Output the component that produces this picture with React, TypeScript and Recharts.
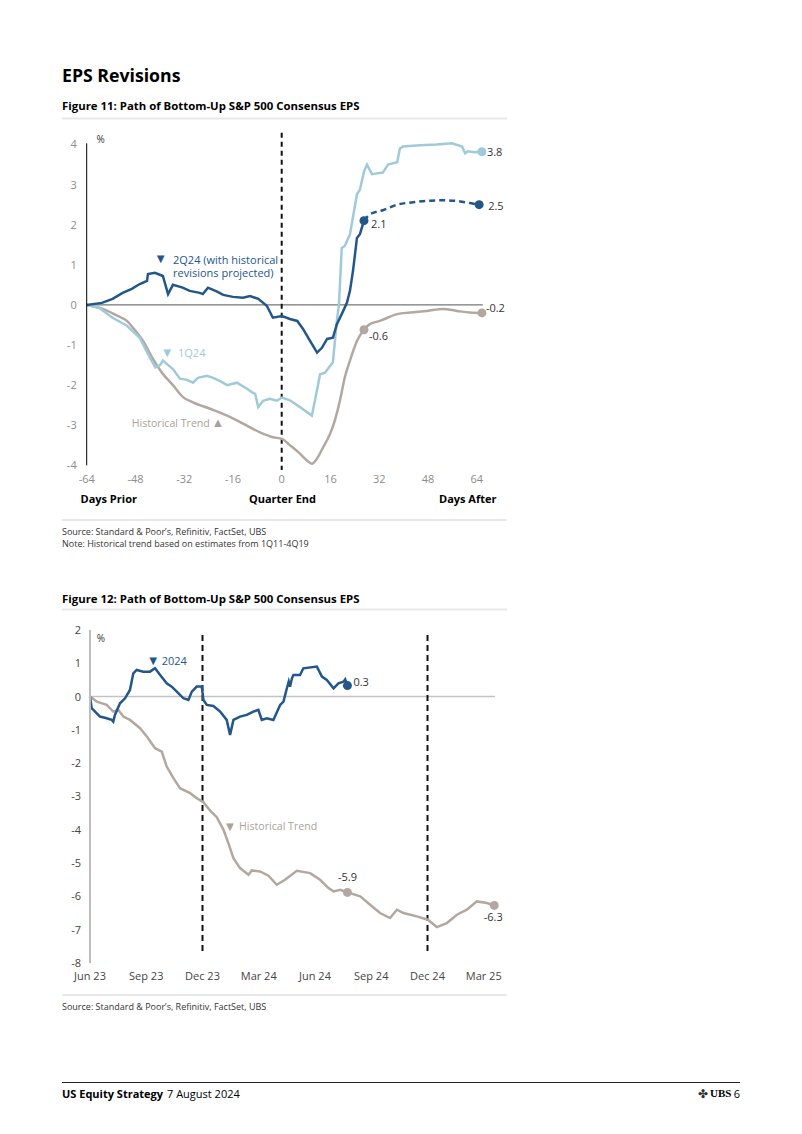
import React from 'react';
import { LineChart, Line, XAxis, YAxis, ReferenceLine, ReferenceDot } from 'recharts';

const FONT = '"Open Sans", "Noto Sans", sans-serif';
const DARK_BLUE = '#23578a';
const LIGHT_BLUE = '#a0cad9';
const TAUPE = '#b2a8a1';

// ---- Figure 11: days around quarter end vs % revision ----
const fig11XTicks = [-64, -48, -32, -16, 0, 16, 32, 48, 64];
const fig11YTicks = [-4, -3, -2, -1, 0, 1, 2, 3, 4];

// [day, %]
const q224Actual = [
  [-64, 0], [-59, 0.05], [-55.5, 0.15], [-52.2, 0.3], [-49.2, 0.4], [-46.6, 0.52], [-44.2, 0.6],
  [-43.9, 0.77], [-41.6, 0.8], [-39, 0.72], [-37.3, 0.27], [-35.7, 0.5], [-32.5, 0.43], [-30.2, 0.35],
  [-26.9, 0.3], [-25.9, 0.27], [-24.2, 0.43], [-21.2, 0.33], [-19.2, 0.25], [-16, 0.2], [-12.7, 0.18],
  [-10.4, 0.22], [-7.7, 0.15], [-4.9, -0.02], [-2.9, -0.32], [0.1, -0.28], [2.7, -0.35], [5.1, -0.4],
  [7, -0.6], [9.3, -0.9], [11.6, -1.19], [13.2, -1.07], [14.9, -0.85], [16.8, -0.82], [18.1, -0.48],
  [19.7, -0.23], [21.4, 0.05], [22.4, 0.35], [23.4, 0.85], [24.7, 1.67], [25.7, 1.77], [27, 2.1],
];
const q224Projected = [
  [27, 2.1], [29, 2.26], [33.2, 2.36], [37.9, 2.5], [43.1, 2.56], [48.7, 2.6], [52.9, 2.61],
  [57.5, 2.59], [61.8, 2.54], [64.8, 2.5],
];
const q124 = [
  [-64, 0], [-60, -0.07], [-55.5, -0.32], [-50.8, -0.52], [-46.6, -0.82], [-43.9, -1.22], [-41.5, -1.56],
  [-39.9, -1.5], [-39, -1.39], [-35.7, -1.6], [-33.4, -1.84], [-31.1, -1.87], [-29.1, -1.94], [-27.5, -1.82],
  [-24.5, -1.77], [-22.5, -1.82], [-20.2, -1.9], [-17.9, -2.0], [-14.7, -1.94], [-11.4, -2.09], [-9.7, -2.18],
  [-8.7, -2.22], [-7.7, -2.55], [-6.1, -2.39], [-3.9, -2.34], [-1.6, -2.39], [0.1, -2.31], [2.7, -2.38],
  [6, -2.55], [9.9, -2.76], [10.9, -2.39], [12.6, -1.73], [14.2, -1.69], [16.8, -1.43], [18.1, -0.4],
  [18.8, 0.02], [19.7, 1.42], [20.7, 1.47], [22.4, 1.76], [24.7, 2.76], [25.7, 2.88], [27, 3.33],
  [28, 3.5], [29.6, 3.26], [31.3, 3.28], [33.2, 3.3], [34.9, 3.5], [37.9, 3.56], [38.8, 3.9],
  [39.8, 3.95], [45.4, 3.98], [50.9, 4.0], [55.9, 4.03], [59.2, 3.95], [60.2, 3.78], [61.1, 3.83],
  [63.4, 3.81], [65.7, 3.82],
];
const histTrend11 = [
  [-64, 0], [-58.7, -0.1], [-54, -0.27], [-50.8, -0.4], [-48.8, -0.57], [-45.5, -0.9], [-42.2, -1.35],
  [-39, -1.72], [-35.7, -2.0], [-32.4, -2.3], [-29.1, -2.43], [-23.5, -2.59], [-17.9, -2.76], [-12.7, -2.96],
  [-7.1, -3.18], [-2.9, -3.3], [0.1, -3.34], [2.7, -3.5], [6, -3.71], [8.3, -3.88], [9.9, -3.96],
  [11.6, -3.83], [13.6, -3.55], [15.9, -3.21], [17.4, -2.89], [19.1, -2.39], [20.7, -1.81], [22.4, -1.39],
  [24.7, -0.9], [27, -0.62], [28.9, -0.48], [32.2, -0.4], [37.9, -0.23], [42.1, -0.19], [47.7, -0.15],
  [52.9, -0.1], [57.5, -0.15], [61.8, -0.19], [65.7, -0.2],
];
const fig11Dash = { day: 0, top: 4.29, bottom: -4.12 };

// ---- Figure 12: months since Jun 23 vs % revision ----
const fig12XLabels = ['Jun 23', 'Sep 23', 'Dec 23', 'Mar 24', 'Jun 24', 'Sep 24', 'Dec 24', 'Mar 25'];
const fig12XTicks = [0, 3, 6, 9, 12, 15, 18, 21];
const fig12YTicks = [-8, -7, -6, -5, -4, -3, -2, -1, 0, 1, 2];

// [month, %]
const y2024 = [
  [0, 0], [0.09, -0.35], [0.27, -0.45], [0.53, -0.6], [0.89, -0.65], [1.16, -0.7], [1.24, -0.75],
  [1.33, -0.55], [1.6, -0.2], [1.87, -0.05], [2.13, 0.2], [2.31, 0.7], [2.49, 0.8], [2.84, 0.75],
  [3.2, 0.75], [3.47, 0.85], [3.74, 0.65], [4.09, 0.4], [4.36, 0.3], [4.63, 0.15], [4.98, -0.05],
  [5.25, -0.1], [5.43, 0.15], [5.69, 0.3], [5.96, 0.3], [6.05, -0.1], [6.23, -0.25], [6.58, -0.28],
  [6.94, -0.45], [7.29, -0.7], [7.47, -1.15], [7.65, -0.7], [8.0, -0.6], [8.36, -0.55], [8.71, -0.45],
  [8.98, -0.4], [9.16, -0.7], [9.43, -0.65], [9.78, -0.7], [10.14, -0.25], [10.32, -0.15], [10.5, 0.25],
  [10.6, 0.45], [10.67, 0.3], [10.77, 0.55], [10.85, 0.65], [11.2, 0.65], [11.38, 0.85], [12.1, 0.9],
  [12.37, 0.6], [12.63, 0.5], [12.99, 0.25], [13.25, 0.4], [13.52, 0.45], [13.61, 0.52], [13.73, 0.33],
];
const histTrend12 = [
  [0, 0], [0.36, -0.15], [0.89, -0.25], [1.07, -0.35], [1.24, -0.45], [1.51, -0.4], [1.78, -0.6],
  [2.13, -0.7], [2.67, -0.95], [3.03, -1.2], [3.47, -1.55], [3.83, -1.65], [4.09, -2.1], [4.45, -2.45],
  [4.8, -2.75], [5.34, -2.9], [5.69, -3.05], [6.05, -3.17], [6.4, -3.42], [6.76, -3.62], [7.12, -4.0],
  [7.38, -4.4], [7.65, -4.85], [8.0, -5.15], [8.45, -5.35], [8.63, -5.22], [9.07, -5.25], [9.52, -5.38],
  [9.96, -5.65], [10.4, -5.5], [11.03, -5.23], [11.74, -5.3], [12.27, -5.5], [12.72, -5.75], [12.99, -5.85],
  [13.34, -5.8], [13.73, -5.88], [14.41, -6.0], [14.94, -6.25], [15.47, -6.5], [16.0, -6.65], [16.37, -6.4],
  [16.72, -6.5], [17.43, -6.6], [18.02, -6.7], [18.5, -6.92], [19.03, -6.8], [19.57, -6.55], [20.1, -6.4],
  [20.63, -6.15], [21.17, -6.2], [21.56, -6.27],
];
const fig12Dashes = [6, 18];
const fig12DashTop = 1.85;
const fig12DashBottom = -7.76;

const toPts = (rows: number[][]) => rows.map(([x, v]) => ({ x, v }));
const last = (rows: number[][]) => rows[rows.length - 1];
const at = (rows: number[][], x: number) => rows.find((r) => r[0] === x) as number[];

// marker + value label
const valueDot = (color: string, value: number, dx: number, dy: number, anchor = 'start') => (p: any) => (
  <g>
    <circle cx={p.cx} cy={p.cy} r={4.5} fill={color} />
    <text
      x={p.cx + dx}
      y={p.cy + dy}
      fill="#333"
      fontSize={11}
      fontFamily={FONT}
      textAnchor={anchor}
      dominantBaseline="central"
    >
      {value.toFixed(1)}
    </text>
  </g>
);

const Txt: React.FC<any> = ({ x, y, children, size = 11, weight = 400, fill = '#000', anchor = 'start' }) => (
  <text
    x={x}
    y={y}
    fontSize={size}
    fontWeight={weight}
    fill={fill}
    textAnchor={anchor}
    fontFamily={FONT}
    dominantBaseline="central"
  >
    {children}
  </text>
);

const lineProps = { dataKey: 'v', dot: false, isAnimationActive: false, strokeWidth: 2.5 };

const Figure11: React.FC = () => {
  const histMid = at(histTrend11, 27);
  return (
    <div style={{ position: 'absolute', left: 40, top: 120 }}>
      <LineChart width={480} height={390} margin={{ top: 23.3, right: 37.2, bottom: 14.7, left: 16.7 }}>
        <XAxis
          type="number"
          dataKey="x"
          domain={[-64, 66]}
          ticks={fig11XTicks}
          axisLine={false}
          tickLine={false}
          tickMargin={4}
          height={30}
          tick={{ fill: '#8c8c8c', fontSize: 11, fontFamily: FONT }}
        />
        <YAxis
          type="number"
          domain={[-4, 4]}
          ticks={fig11YTicks}
          width={30}
          axisLine={{ stroke: '#000', strokeWidth: 1 }}
          tickLine={false}
          tickMargin={4}
          tick={{ fill: '#8c8c8c', fontSize: 11, fontFamily: FONT }}
        />
        <ReferenceLine y={0} stroke="#555" strokeWidth={1} />
        <ReferenceLine
          segment={[{ x: fig11Dash.day, y: fig11Dash.top }, { x: fig11Dash.day, y: fig11Dash.bottom }]}
          stroke="#111"
          strokeWidth={2}
          strokeDasharray="5 4"
          ifOverflow="visible"
        />
        <Line {...lineProps} data={toPts(histTrend11)} stroke={TAUPE} type="monotone" />
        <Line {...lineProps} data={toPts(q124)} stroke={LIGHT_BLUE} type="linear" />
        <Line {...lineProps} data={toPts(q224Actual)} stroke={DARK_BLUE} type="linear" />
        <Line {...lineProps} data={toPts(q224Projected)} stroke={DARK_BLUE} type="monotone" strokeDasharray="6 4" />
        <ReferenceDot x={last(q124)[0]} y={last(q124)[1]} shape={valueDot(LIGHT_BLUE, last(q124)[1], 5, 0)} />
        <ReferenceDot
          x={last(q224Projected)[0]}
          y={last(q224Projected)[1]}
          shape={valueDot(DARK_BLUE, last(q224Projected)[1], 9, 1)}
        />
        <ReferenceDot
          x={last(q224Actual)[0]}
          y={last(q224Actual)[1]}
          shape={valueDot(DARK_BLUE, last(q224Actual)[1], 7, 3)}
        />
        <ReferenceDot
          x={last(histTrend11)[0]}
          y={last(histTrend11)[1]}
          shape={valueDot(TAUPE, last(histTrend11)[1], 4, -5)}
        />
        <ReferenceDot x={histMid[0]} y={histMid[1]} shape={valueDot(TAUPE, histMid[1], 5, 6)} />
      </LineChart>
    </div>
  );
};

const Figure12: React.FC = () => {
  const histMid = at(histTrend12, 13.73);
  return (
    <div style={{ position: 'absolute', left: 40, top: 615 }}>
      <LineChart width={480} height={375} margin={{ top: 15, right: 25, bottom: 7, left: 20 }}>
        <XAxis
          type="number"
          dataKey="x"
          domain={[0, 21.6]}
          ticks={fig12XTicks}
          tickFormatter={(t: number) => fig12XLabels[t / 3]}
          axisLine={false}
          tickLine={false}
          tickMargin={3}
          height={20}
          tick={{ fill: '#444', fontSize: 11, fontFamily: FONT }}
        />
        <YAxis
          type="number"
          domain={[-8, 2]}
          ticks={fig12YTicks}
          width={30}
          axisLine={{ stroke: '#bdbdbd', strokeWidth: 2 }}
          tickLine={false}
          tickMargin={3}
          tick={{ fill: '#444', fontSize: 11, fontFamily: FONT }}
        />
        <ReferenceLine y={0} stroke="#c4c4c4" strokeWidth={1.5} />
        {fig12Dashes.map((m) => (
          <ReferenceLine
            key={m}
            segment={[{ x: m, y: fig12DashTop }, { x: m, y: fig12DashBottom }]}
            stroke="#111"
            strokeWidth={2}
            strokeDasharray="6 4"
            ifOverflow="visible"
          />
        ))}
        <Line {...lineProps} data={toPts(histTrend12)} stroke={TAUPE} type="linear" />
        <Line {...lineProps} data={toPts(y2024)} stroke={DARK_BLUE} type="linear" />
        <ReferenceDot x={last(y2024)[0]} y={last(y2024)[1]} shape={valueDot(DARK_BLUE, last(y2024)[1], 6, -4)} />
        <ReferenceDot x={histMid[0]} y={histMid[1]} shape={valueDot(TAUPE, histMid[1], 0, -16, 'middle')} />
        <ReferenceDot
          x={last(histTrend12)[0]}
          y={last(histTrend12)[1]}
          shape={valueDot(TAUPE, last(histTrend12)[1], -1, 11, 'middle')}
        />
      </LineChart>
    </div>
  );
};

const App: React.FC = () => {
  return (
    <div style={{ position: 'absolute', left: 0, top: 0, width: 802, height: 1134, background: '#fff' }}>
      <Figure11 />
      <Figure12 />
      <svg width={802} height={1134} style={{ position: 'absolute', left: 0, top: 0, pointerEvents: 'none' }}>
        <Txt x={62} y={75} size={17.7} weight={700}>EPS Revisions</Txt>
        <Txt x={62} y={105} size={11.4} weight={700}>Figure 11: Path of Bottom-Up S&amp;P 500 Consensus EPS</Txt>
        <line x1={62} x2={507} y1={118.5} y2={118.5} stroke="#e8e8e8" strokeWidth={2} />

        <Txt x={96.5} y={139} size={10} fill="#333">%</Txt>
        <Txt x={160.7} y={258} size={13} fill={DARK_BLUE} anchor="middle">▼</Txt>
        <Txt x={173} y={259} fill={DARK_BLUE}>2Q24 (with historical</Txt>
        <Txt x={173} y={272} fill={DARK_BLUE}>revisions projected)</Txt>
        <Txt x={167.3} y={351.7} size={13} fill={LIGHT_BLUE} anchor="middle">▼</Txt>
        <Txt x={178} y={352} fill={LIGHT_BLUE}>1Q24</Txt>
        <Txt x={131.7} y={422.7} size={10.6} fill="#aaa19b">Historical Trend</Txt>
        <Txt x={218} y={422} size={13} fill="#aaa19b" anchor="middle">▲</Txt>

        <Txt x={80.5} y={498} weight={700}>Days Prior</Txt>
        <Txt x={282.5} y={498} weight={700} anchor="middle">Quarter End</Txt>
        <Txt x={496.5} y={498} weight={700} anchor="end">Days After</Txt>

        <line x1={62} x2={507} y1={520} y2={520} stroke="#e8e8e8" strokeWidth={2} />
        <Txt x={62} y={531} size={9} fill="#333">Source: Standard &amp; Poor’s, Refinitiv, FactSet, UBS</Txt>
        <Txt x={62} y={543} size={9} fill="#333">Note: Historical trend based on estimates from 1Q11-4Q19</Txt>

        <Txt x={62} y={598} size={11.4} weight={700}>Figure 12: Path of Bottom-Up S&amp;P 500 Consensus EPS</Txt>
        <line x1={62} x2={507} y1={609.5} y2={609.5} stroke="#e8e8e8" strokeWidth={2} />

        <Txt x={96.7} y={638} size={10} fill="#333">%</Txt>
        <Txt x={153.3} y={660} size={13} fill={DARK_BLUE} anchor="middle">▼</Txt>
        <Txt x={161.7} y={660} fill={DARK_BLUE}>2024</Txt>
        <Txt x={230} y={826} size={13} fill="#aaa19b" anchor="middle">▼</Txt>
        <Txt x={239} y={826} size={10.6} fill="#aaa19b">Historical Trend</Txt>

        <line x1={62} x2={507} y1={995} y2={995} stroke="#e8e8e8" strokeWidth={2} />
        <Txt x={62} y={1006.5} size={9} fill="#333">Source: Standard &amp; Poor’s, Refinitiv, FactSet, UBS</Txt>

        <line x1={62} x2={740} y1={1082.5} y2={1082.5} stroke="#222" strokeWidth={1} />
        <Txt x={62} y={1093} size={11} weight={700}>US Equity Strategy</Txt>
        <Txt x={167} y={1093} size={11}>7 August 2024</Txt>
        <Txt x={703} y={1093} size={12} fill="#333" anchor="middle">✤</Txt>
        <text x={710} y={1097} fontSize={11} fontWeight={700} fontFamily='"Liberation Serif", serif' textAnchor="start">
          UBS
        </text>
        <Txt x={740} y={1093} size={11} anchor="end">6</Txt>
      </svg>
    </div>
  );
};

export default App;
